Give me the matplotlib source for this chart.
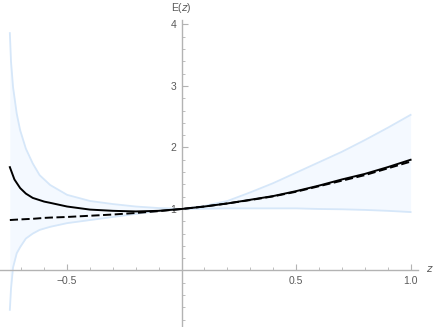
import numpy as np
from matplotlib import pyplot as plt
from matplotlib.ticker import FixedLocator

# values
z_mean = [-0.75, -0.73, -0.705, -0.68, -0.65, -0.6, -0.574, -0.5, -0.4, -0.3, -0.2, -0.1,
          0.0, 0.1, 0.2, 0.3, 0.4, 0.5, 0.6, 0.7, 0.8, 0.9, 1.0]
exact = [1.68, 1.48, 1.34, 1.25, 1.18, 1.12, 1.10, 1.04, 0.99, 0.97, 0.96, 0.97,
         1.0, 1.04, 1.09, 1.15, 1.21, 1.29, 1.38, 1.48, 1.57, 1.68, 1.80]
approx = [0.82, 0.825, 0.83, 0.835, 0.84, 0.855, 0.86, 0.87, 0.89, 0.91, 0.935, 0.965,
          1.0, 1.04, 1.09, 1.145, 1.205, 1.28, 1.37, 1.46, 1.55, 1.66, 1.77]

z_band = [-0.75, -0.745, -0.736, -0.72, -0.705, -0.68, -0.65, -0.62, -0.574, -0.5, -0.4,
          -0.3, -0.2, -0.1, 0.0, 0.1, 0.2, 0.3, 0.4, 0.5, 0.6, 0.7, 0.8, 0.9, 1.0]
upper = [3.86, 3.4, 2.98, 2.55, 2.28, 1.98, 1.74, 1.55, 1.39, 1.23, 1.13,
         1.08, 1.04, 1.015, 1.0, 1.05, 1.13, 1.27, 1.42, 1.59, 1.76, 1.93, 2.12, 2.32, 2.53]
lower = [-0.64, -0.3, 0.05, 0.28, 0.38, 0.52, 0.6, 0.66, 0.71, 0.77, 0.82,
         0.87, 0.92, 0.97, 1.0, 1.005, 1.01, 1.01, 1.01, 1.01, 1.0, 0.995, 0.985, 0.97, 0.95]

x_major = [-0.5, 0.5, 1.0]
x_labels = ["\u22120.5", "0.5", "1.0"]
x_minor = [-0.7, -0.6, -0.4, -0.3, -0.2, -0.1, 0.1, 0.2, 0.3, 0.4, 0.6, 0.7, 0.8, 0.9]
y_major = [1, 2, 3, 4]
y_minor = [-0.8, -0.6, -0.4, -0.2, 0.2, 0.4, 0.6, 0.8, 1.2, 1.4, 1.6, 1.8,
           2.2, 2.4, 2.6, 2.8, 3.2, 3.4, 3.6, 3.8]

plt.rcParams['font.family'] = ['Liberation Sans', 'DejaVu Sans']
axis_grey = "#b3b3b3"
text_grey = "#5a5a5a"

fig = plt.figure(figsize=(4.36, 3.27), dpi=100)
ax = fig.add_axes([0, 0, 1, 1])
ax.set_xlim(-0.793, 1.111)
ax.set_ylim(-0.919, 4.398)

ax.fill_between(z_band, lower, upper, color="#f4f9ff", lw=0, zorder=1)
ax.plot(z_band, upper, color="#d6e7f9", lw=1.3, zorder=2)
ax.plot(z_band, lower, color="#d6e7f9", lw=1.3, zorder=2)
ax.plot(z_mean, exact, color="black", lw=1.4, zorder=4)
ax.plot(z_mean, approx, color="black", lw=1.4, dashes=(4.2, 1.8), zorder=4)

for s in ["top", "right"]:
    ax.spines[s].set_visible(False)
ax.spines["left"].set_position(("data", 0))
ax.spines["bottom"].set_position(("data", 0))
ax.spines["left"].set_bounds(-0.919, 4.07)
ax.spines["bottom"].set_bounds(-0.793, 1.033)
for s in ["left", "bottom"]:
    ax.spines[s].set_color(axis_grey)
    ax.spines[s].set_linewidth(1.0)
    ax.spines[s].set_zorder(3)

ax.xaxis.set_major_locator(FixedLocator(x_major))
ax.set_xticklabels(x_labels)
ax.xaxis.set_minor_locator(FixedLocator(x_minor))
ax.yaxis.set_major_locator(FixedLocator(y_major))
ax.yaxis.set_minor_locator(FixedLocator(y_minor))
ax.tick_params(which="major", direction="in", length=4, width=0.8, color=axis_grey,
               labelsize=7.5, labelcolor=text_grey, pad=4)
ax.tick_params(which="minor", direction="in", length=2.5, width=0.6, color=axis_grey)

ax.text(0, 4.27, "E($z$)", ha="center", va="center", fontsize=7.5, color=text_grey)
ax.text(1.083, 0.03, "$z$", ha="center", va="center", fontsize=7.5, color=text_grey)

fig.savefig("out.png", dpi=100)
